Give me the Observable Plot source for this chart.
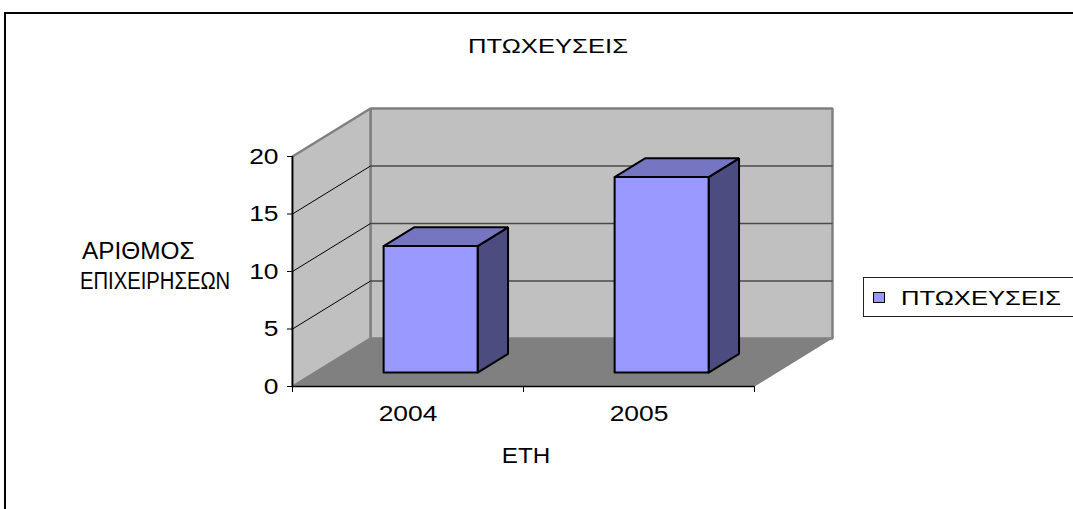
<!DOCTYPE html>
<html>
<head>
<meta charset="utf-8">
<script src="https://cdn.jsdelivr.net/npm/d3@7"></script>
<script src="https://cdn.jsdelivr.net/npm/@observablehq/plot@0.6"></script>
<style>
  html, body { margin: 0; padding: 0; background: white; overflow: hidden; }
  #wrap { position: relative; width: 1073px; height: 509px; overflow: hidden; }
  #chart { position: absolute; left: 0; top: 0; }
  .t { position: absolute; font-family: 'Liberation Sans', Arial, sans-serif; white-space: nowrap; line-height: 1; color: black; }
  #frame { position: absolute; left: 4px; top: 12px; width: 2000px; height: 2000px; border-left: 2px solid black; border-top: 2px solid black; pointer-events: none; }
  #legend { position: absolute; left: 863px; top: 277px; width: 220px; height: 38px; border: 1px solid #222; }
  #swatch { position: absolute; left: 873px; top: 292px; width: 10px; height: 9px; background: #9999FF; border: 1.5px solid black; }
</style>
</head>
<body>
<div id="wrap">
  <div id="chart"></div>
  <div id="frame"></div>
</div>
<script>
// ---- data ----
const years = ["2004", "2005"];
const bankruptcies = [11, 17];
const yTicks = [0, 5, 10, 15, 20];
const chartTitle = "ΠΤΩΧΕΥΣΕΙΣ";
const seriesName = "ΠΤΩΧΕΥΣΕΙΣ";
const yTitleLines = ["ΑΡΙΘΜΟΣ", "ΕΠΙΧΕΙΡΗΣΕΩΝ"];
const xTitle = "ΕΤΗ";

// ---- 3D projection in data units ----
const nCat = years.length;
const yMax = yTicks[yTicks.length - 1];
const KX = 78 / 231;      // depth shift along x (category units)
const KY = 48 / 11.5;     // depth shift along y (value units)
const P = (x, y, z) => ({x: x + z * KX, y: y + z * KY});
const poly = (id, pts) => pts.concat([pts[0]]).map(p => ({...p, id}));

const floor = poly("floor", [P(0,0,0), P(nCat,0,0), P(nCat,0,1), P(0,0,1)]);
const backWall = poly("back", [P(0,0,1), P(nCat,0,1), P(nCat,yMax,1), P(0,yMax,1)]);
const sideWall = poly("side", [P(0,0,0), P(0,0,1), P(0,yMax,1), P(0,yMax,0)]);
const innerTicks = yTicks.filter(v => v > 0 && v < yMax);
const backGrid = innerTicks.map(v => { const a = P(0,v,1), b = P(nCat,v,1); return {x1:a.x, y1:a.y, x2:b.x, y2:b.y}; });
const sideGrid = innerTicks.map(v => { const a = P(0,v,0), b = P(0,v,1); return {x1:a.x, y1:a.y, x2:b.x, y2:b.y}; });

const HW = 47 / 231, Z0 = 0.29, Z1 = 0.68;
const fronts = [], tops = [], sides = [];
bankruptcies.forEach((v, i) => {
  const a = i + 0.5 - HW, b = i + 0.5 + HW;
  fronts.push(...poly("f" + i, [P(a,0,Z0), P(b,0,Z0), P(b,v,Z0), P(a,v,Z0)]));
  tops.push(...poly("t" + i, [P(a,v,Z0), P(b,v,Z0), P(b,v,Z1), P(a,v,Z1)]));
  sides.push(...poly("s" + i, [P(b,0,Z0), P(b,0,Z1), P(b,v,Z1), P(b,v,Z0)]));
});

const face = (data, fill, stroke, sw) => Plot.line(data, {x: "x", y: "y", z: "id", fill, stroke, strokeWidth: sw, strokeLinejoin: "miter", curve: "linear"});

const plot = Plot.plot({
  width: 1073, height: 509,
  marginLeft: 292, marginRight: 319, marginTop: 156, marginBottom: 123,
  style: {fontFamily: "'Liberation Sans', Arial, sans-serif", background: "transparent"},
  x: {domain: [0, nCat], axis: null},
  y: {domain: [0, yMax], axis: null},
  marks: [
    face(floor, "#808080", "none", 0),
    face(backWall, "#C0C0C0", "#808080", 2.5),
    face(sideWall, "#C0C0C0", "#808080", 2.5),
    Plot.link(backGrid, {x1: "x1", y1: "y1", x2: "x2", y2: "y2", stroke: "#4a4a4a", strokeWidth: 1.5}),
    Plot.link(sideGrid, {x1: "x1", y1: "y1", x2: "x2", y2: "y2", stroke: "black", strokeWidth: 1}),
    face(sides, "#4C4C80", "black", 2),
    face(tops, "#7575C2", "black", 2),
    face(fronts, "#9999FF", "black", 2),
    Plot.ruleX([0], {y1: 0, y2: yMax, stroke: "black", strokeWidth: 1.5}),
    Plot.ruleY([0], {x1: 0, x2: nCat, stroke: "black", strokeWidth: 1.5}),
    Plot.axisY({ticks: yTicks, tickSize: 5, tickPadding: 9, fontSize: 22, tickFormat: d => String(d), label: null}),
    Plot.axisX({ticks: d3.range(nCat + 1), tickSize: 6, tickFormat: () => "", label: null}),
    Plot.text(years, {x: (d, i) => i + 0.5, y: 0, dy: 27, text: d => d, fontSize: 22, fill: "black"})
  ]
});
document.getElementById("chart").appendChild(plot);

// stretch the text horizontally like the original rendering
plot.querySelectorAll("text").forEach(t => {
  const tr = t.getAttribute("transform");
  if (tr) t.setAttribute("transform", tr + " scale(1.2,1)");
});

// ---- titles and legend (HTML) ----
const wrap = document.getElementById("wrap");
function addText(txt, css) {
  const d = document.createElement("div");
  d.className = "t";
  d.textContent = txt;
  Object.assign(d.style, css);
  wrap.appendChild(d);
  return d;
}
addText(chartTitle, {left: "548px", top: "45px", fontSize: "21px", transform: "translate(-50%,-50%) scaleX(1.22)"});
addText(yTitleLines[0], {left: "82px", top: "251px", fontSize: "23px", transformOrigin: "left center", transform: "translateY(-50%) scaleX(1.06)"});
addText(yTitleLines[1], {left: "80px", top: "281px", fontSize: "23px", transformOrigin: "left center", transform: "translateY(-50%) scaleX(0.88)"});
addText(xTitle, {left: "526px", top: "456px", fontSize: "22px", transform: "translate(-50%,-50%) scaleX(1.1)"});

const lg = document.createElement("div"); lg.id = "legend"; wrap.appendChild(lg);
const sw = document.createElement("div"); sw.id = "swatch"; wrap.appendChild(sw);
addText(seriesName, {left: "901px", top: "297px", fontSize: "21px", transformOrigin: "left center", transform: "translateY(-50%) scaleX(1.22)"});
</script>
</body>
</html>
